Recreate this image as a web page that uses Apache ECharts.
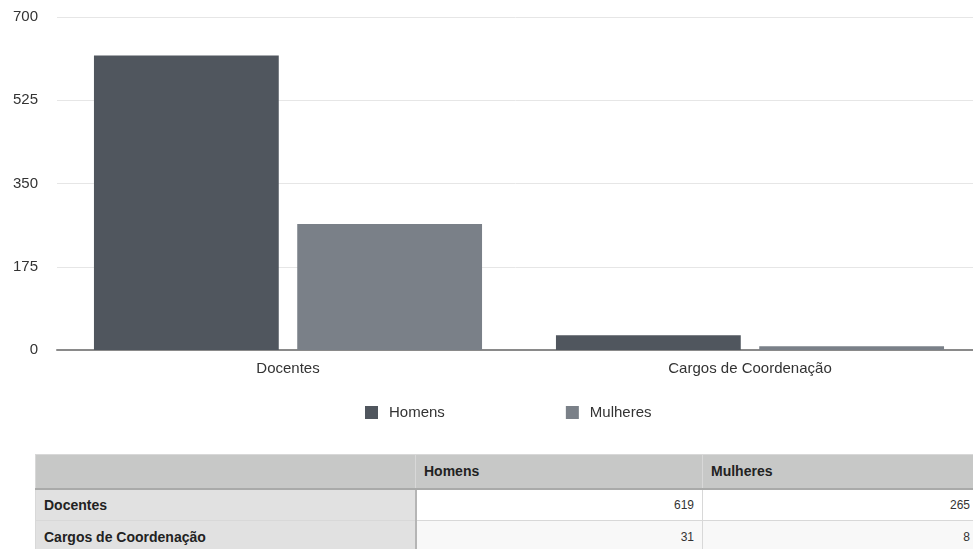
<!DOCTYPE html>
<html>
<head>
<meta charset="utf-8">
<script src="https://cdn.jsdelivr.net/npm/echarts@6/dist/echarts.min.js"></script>
<style>
  html, body { margin: 0; padding: 0; background: #fff; }
  #wrap { position: relative; width: 973px; height: 549px; overflow: hidden; font-family: "Liberation Sans", Arial, sans-serif; }
  #chart { position: absolute; left: 0; top: 0; width: 973px; height: 449px; }
  #tbl { position: absolute; left: 35px; top: 454px; width: 943px; table-layout: fixed; border-collapse: collapse; color: #222; }
  #tbl td, #tbl th { height: 32px; padding: 0 8px; box-sizing: border-box; border: 1px solid #d8d8d8; }
  #tbl th { height: 34px; background: #c7c8c7; text-align: left; font-weight: bold; font-size: 14px; border-bottom: 2px solid #a9aaa9; }
  #tbl td.cat { background: #e1e1e1; font-weight: bold; font-size: 14px; border-right: 2px solid #b5b5b5; }
  #tbl td.num { text-align: right; background: #fff; font-size: 12px; color: #333; }
  #tbl tr.alt td.num { background: #f8f8f8; }
</style>
</head>
<body>
<div id="wrap">
  <div id="chart"></div>
  <table id="tbl"></table>
</div>
<script>
// Categories, series and axis ticks
const categories = ['Docentes', 'Cargos de Coordenação'];
const seriesNames = ['Homens', 'Mulheres'];
const homens = [619, 31];
const mulheres = [265, 8];
const yTicks = [0, 175, 350, 525, 700];

const colors = ['#50565e', '#7a8088'];

const chart = echarts.init(document.getElementById('chart'), null, { renderer: 'canvas' });
chart.setOption({
  animation: false,
  textStyle: { fontFamily: '"Liberation Sans", Arial, sans-serif' },
  color: colors,
  // the plot runs a little past the right edge of the canvas
  grid: { left: 57, width: 924, top: 17, height: 333, outerBoundsMode: 'none' },
  legend: {
    top: 400,
    left: 360,
    itemWidth: 13,
    itemHeight: 13,
    itemGap: 121,
    icon: 'rect',
    textStyle: { fontSize: 15, color: '#333', padding: [0, 0, 0, 6] },
    data: seriesNames
  },
  xAxis: {
    type: 'category',
    data: categories,
    axisLine: { lineStyle: { color: '#8a8a8a', width: 2 } },
    axisTick: { show: false },
    axisLabel: { fontSize: 15, color: '#333', margin: 11 }
  },
  yAxis: {
    type: 'value',
    min: yTicks[0],
    max: yTicks[yTicks.length - 1],
    interval: yTicks[1] - yTicks[0],
    axisLine: { show: false },
    axisTick: { show: false },
    axisLabel: { fontSize: 15, color: '#333', margin: 19 },
    splitLine: { lineStyle: { color: '#e6e6e6', width: 1 } }
  },
  series: [
    { name: seriesNames[0], type: 'bar', data: homens, barGap: '10%', barCategoryGap: '16%' },
    { name: seriesNames[1], type: 'bar', data: mulheres, barGap: '10%', barCategoryGap: '16%' }
  ]
});

// Data table below the chart, built from the same arrays
const tbl = document.getElementById('tbl');
const colWidths = [380, 287, 276];
let html = '<tr>';
['', ...seriesNames].forEach((h, i) => {
  html += `<th style="width:${colWidths[i]}px">${h}</th>`;
});
html += '</tr>';
categories.forEach((c, r) => {
  html += `<tr class="${r % 2 ? 'alt' : ''}"><td class="cat">${c}</td>` +
    `<td class="num">${homens[r]}</td><td class="num">${mulheres[r]}</td></tr>`;
});
tbl.innerHTML = html;
</script>
</body>
</html>
